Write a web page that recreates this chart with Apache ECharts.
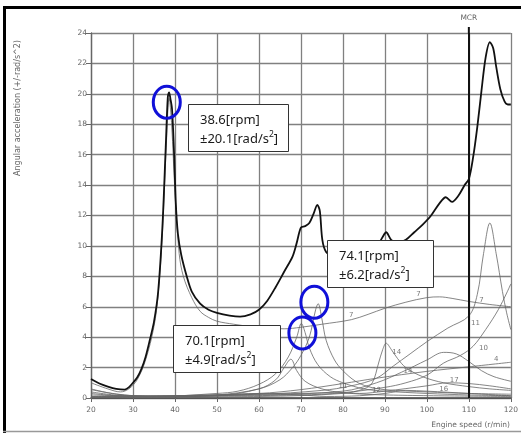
<!DOCTYPE html>
<html><head><meta charset="utf-8">
<script src="https://cdn.jsdelivr.net/npm/echarts@6/dist/echarts.min.js"></script>
<style>html,body{margin:0;padding:0;background:#fff}#c{width:521px;height:433px}</style>
</head><body><div id="c"></div>
<script>
// ---- data (engine speed rpm, angular acceleration rad/s^2) ----
var totalCurve = [[20,1.25],[22,0.95],[24,0.75],[26,0.6],[28,0.55],[29,0.7],[30,1.0],[31,1.35],[32,1.9],[33,2.7],[34,3.8],[35,5.0],[36,7.0],[37,11.2],[37.8,16.5],[38.3,19.8],[38.6,20.1],[38.9,19.7],[39.3,19.0],[39.8,16],[40.2,12.8],[40.7,10.8],[41.5,9.4],[42.8,8.0],[44,7.0],[46,6.2],[48,5.8],[50,5.6],[53,5.42],[55.5,5.35],[58,5.5],[60,5.8],[62,6.4],[64,7.3],[66,8.3],[68,9.3],[69,10.2],[70,11.2],[71,11.3],[72,11.5],[73,12.1],[73.9,12.7],[74.5,12.3],[75.1,10.4],[76,9.6],[78,9.2],[80,9.0],[83,9.1],[86,9.4],[88,9.9],[89.5,10.6],[90.3,10.9],[91.5,10.4],[93,10.2],[95,10.4],[97,10.9],[99,11.4],[101,12.0],[103,12.8],[104.5,13.2],[106,12.9],[107.5,13.3],[109,14.0],[110,14.4],[111,15.8],[112,17.8],[113,20.2],[114,22.4],[115,23.4],[115.8,23.0],[116.5,21.8],[117.5,20.3],[118.5,19.5],[119.3,19.3],[120,19.3]];
var order7 = [[20,1.0],[24,0.6],[27,0.4],[29,0.6],[31,1.2],[33,2.5],[35,4.7],[36,6.8],[37,10.8],[38,17],[38.6,19.7],[39.2,18],[40,13.5],[41,9.5],[42,8.0],[44,6.6],[46,5.7],[48,5.3],[50,5.05],[54,4.85],[58,4.7],[62,4.6],[66,4.55],[70,4.65],[75,4.85],[82,5.15],[86,5.5],[90,5.9],[95,6.3],[100,6.6],[103,6.65],[106,6.55],[110,6.35],[115,6.15],[120,6.0]];
var order18 = [[20,0.6],[26,0.25],[35,0.1],[50,0.3],[55,0.45],[60,0.9],[64,1.6],[67,2.7],[69,4.0],[70.1,4.9],[71,4.3],[72,3.3],[74,2.2],[77,1.4],[80,1.0],[85,0.6],[90,0.45],[100,0.3],[110,0.2],[120,0.15]];
var order17 = [[20,0.4],[28,0.15],[40,0.12],[50,0.2],[60,0.6],[65,1.2],[68,2.0],[70,2.8],[72,4.0],[73.5,5.8],[74.1,6.2],[75,5.2],[76,3.8],[78,2.5],[80,1.8],[83,1.1],[86,0.75],[90,0.55],[100,0.4],[110,0.3],[120,0.25]];
var order19 = [[20,0.2],[40,0.1],[50,0.15],[60,0.6],[64,1.2],[66,2.0],[67.6,2.55],[69,1.8],[71,1.1],[75,0.6],[80,0.35],[90,0.2],[120,0.1]];
var order14 = [[20,0.05],[60,0.1],[80,0.3],[85,0.6],[87,1.0],[88.5,2.3],[89.5,3.2],[90.3,3.6],[91.5,3.2],[93,2.6],[95,2.0],[99,1.4],[104,1.0],[110,0.75],[115,0.6],[120,0.5]];
var order11 = [[20,0.1],[60,0.25],[75,0.5],[82,0.8],[88,1.3],[92,2.1],[96,2.9],[100,3.7],[105,4.6],[110,5.4],[112,6.8],[113.5,9.5],[115,11.5],[116.5,9.5],[118,7.0],[119,5.6],[120,4.5]];
var order10 = [[20,0.05],[70,0.2],[80,0.35],[90,0.7],[95,1.0],[100,1.5],[104,2.3],[108,2.8],[111,3.4],[114,4.5],[117,5.8],[119,6.9],[120,7.5]];
var order12 = [[20,0.1],[60,0.2],[80,0.45],[88,1.0],[94,1.7],[100,2.5],[104,3.0],[107,2.9],[110,2.4],[113,1.8],[116,1.4],[120,1.1]];
var order4 = [[20,0.05],[40,0.15],[60,0.3],[70,0.55],[80,0.95],[88,1.3],[100,1.75],[110,2.05],[120,2.35]];
var lowA = [[20,0.55],[24,0.35],[28,0.2],[35,0.1],[50,0.15],[60,0.25],[70,0.3],[78,0.35],[84,0.3],[90,0.45],[100,0.8],[105,1.0],[110,0.95],[115,0.8],[120,0.6]];
var lowB = [[20,0.3],[30,0.1],[40,0.12],[50,0.2],[60,0.3],[70,0.2],[76,0.1],[84,0.15],[90,0.3],[95,0.5],[100,0.45],[110,0.3],[120,0.15]];
var orderLabels = [[82,5.45,'7'],[98,6.85,'7'],[113,6.45,'7'],[111.6,4.9,'11'],[113.5,3.3,'10'],[92.8,3.0,'14'],[95.5,1.75,'14'],[116.5,2.55,'4'],[80,0.8,'11'],[106.5,1.2,'17'],[104,0.55,'16'],[88,0.5,'12']];
var xTicks = [20,30,40,50,60,70,80,90,100,110,120];
var yTicks = [0,2,4,6,8,10,12,14,16,18,20,22,24];
var mcrSpeed = 110;
var callouts = [
  {ring:[38.05,19.45], box:[43.0,19.35], l1:'38.6[rpm]', l2:'±20.1[rad/s{s|2}]', w:100},
  {ring:[73.2,6.3], box:[76.3,10.4], l1:'74.1[rpm]', l2:'±6.2[rad/s{s|2}]', w:106},
  {ring:[70.35,4.28], box:[39.5,4.8], l1:'70.1[rpm]', l2:'±4.9[rad/s{s|2}]', w:107}
];

var chart = echarts.init(document.getElementById('c'), null, {renderer:'canvas'});
var thin = {color:'#666', width:0.8};
function thinSeries(d){
  return {type:'line', data:d, smooth:0.35, symbol:'none', lineStyle:thin, z:2, silent:true};
}
var axisFont = {fontFamily:'DejaVu Sans', fontSize:7.5, color:'#666'};
chart.setOption({
  animation:false,
  backgroundColor:'#fff',
  grid:{left:91, right:9, top:33, bottom:35},
  xAxis:{type:'value', min:20, max:120, interval:10,
    axisLine:{lineStyle:{color:'#444', width:1.5}},
    axisTick:{show:true, length:4, lineStyle:{color:'#666'}},
    axisLabel:Object.assign({margin:8, formatter:function(v){return xTicks.indexOf(v)>=0?String(v):'';}}, axisFont),
    splitLine:{show:true, lineStyle:{color:'#808080', width:1.3}}},
  yAxis:{type:'value', min:0, max:24, interval:2,
    axisLine:{show:true, lineStyle:{color:'#666', width:1.3}},
    axisTick:{show:true, length:5, lineStyle:{color:'#666'}},
    axisLabel:Object.assign({margin:4, formatter:function(v){return yTicks.indexOf(v)>=0?String(v):'';}}, axisFont),
    splitLine:{show:true, lineStyle:{color:'#808080', width:1.3}}},
  series:[
    thinSeries(order7), thinSeries(order18), thinSeries(order17), thinSeries(order19),
    thinSeries(order14), thinSeries(order11), thinSeries(order10), thinSeries(order12),
    thinSeries(order4), thinSeries(lowA), thinSeries(lowB),
    {type:'scatter', data:orderLabels, symbolSize:0, silent:true, z:3,
      label:{show:true, position:'inside', formatter:function(p){return p.data[2];}, fontFamily:'DejaVu Sans', fontSize:7, color:'#555'}},
    {type:'line', data:totalCurve, smooth:0.3, symbol:'none', z:5, silent:true,
      lineStyle:{color:'#111', width:1.8},
      markLine:{symbol:'none', silent:true, animation:false,
        lineStyle:{color:'#111', width:2, type:'solid'},
        label:{show:true, position:'end', formatter:'MCR', fontFamily:'DejaVu Sans', fontSize:7.5, color:'#666', distance:11},
        data:[{xAxis:mcrSpeed}]}}
  ]
});

var g = [];
// frame
g.push({type:'line', shape:{x1:3, y1:7.5, x2:521, y2:7.5}, style:{stroke:'#000', lineWidth:3}, z:20});
g.push({type:'line', shape:{x1:4.5, y1:6, x2:4.5, y2:433}, style:{stroke:'#000', lineWidth:3}, z:20});
g.push({type:'line', shape:{x1:3, y1:431.5, x2:521, y2:431.5}, style:{stroke:'#999', lineWidth:1.5}, z:20});
// MCR line stub above the plot top
var mTop = chart.convertToPixel({gridIndex:0}, [mcrSpeed, 24]);
g.push({type:'line', shape:{x1:mTop[0], y1:mTop[1]-6, x2:mTop[0], y2:mTop[1]}, style:{stroke:'#111', lineWidth:2}, z:20});
// axis names
g.push({type:'text', x:18, y:108, rotation:Math.PI/2, style:{text:'Angular acceleration (+/-rad/s^2)', fontFamily:'DejaVu Sans', fontSize:8, fill:'#666', textAlign:'center', textVerticalAlign:'middle'}, z:20});
g.push({type:'text', x:510, y:425, style:{text:'Engine speed (r/min)', fontFamily:'DejaVu Sans', fontSize:7.5, fill:'#666', textAlign:'right', textVerticalAlign:'middle'}, z:20});
callouts.forEach(function(c){
  var p = chart.convertToPixel({gridIndex:0}, c.ring);
  var b = chart.convertToPixel({gridIndex:0}, c.box);
  g.push({type:'ellipse', shape:{cx:p[0], cy:p[1], rx:13.5, ry:16}, style:{fill:'none', stroke:'#1010d8', lineWidth:3}, z:30});
  g.push({type:'rect', shape:{x:Math.round(b[0])+0.5, y:Math.round(b[1])+0.5, width:c.w, height:47}, style:{fill:'#fff', stroke:'#333', lineWidth:1}, z:25});
  g.push({type:'text', x:Math.round(b[0])+12, y:Math.round(b[1])+7, z:26,
    style:{text:c.l1+'\n'+c.l2, fontFamily:'Noto Sans', fontSize:13, lineHeight:19, fill:'#1a1a1a',
      rich:{s:{fontFamily:'Noto Sans', fontSize:8.5, fill:'#1a1a1a', verticalAlign:'top', lineHeight:12, padding:[0,0,7,0]}}}});
});
chart.setOption({graphic:g});
</script>
</body></html>
